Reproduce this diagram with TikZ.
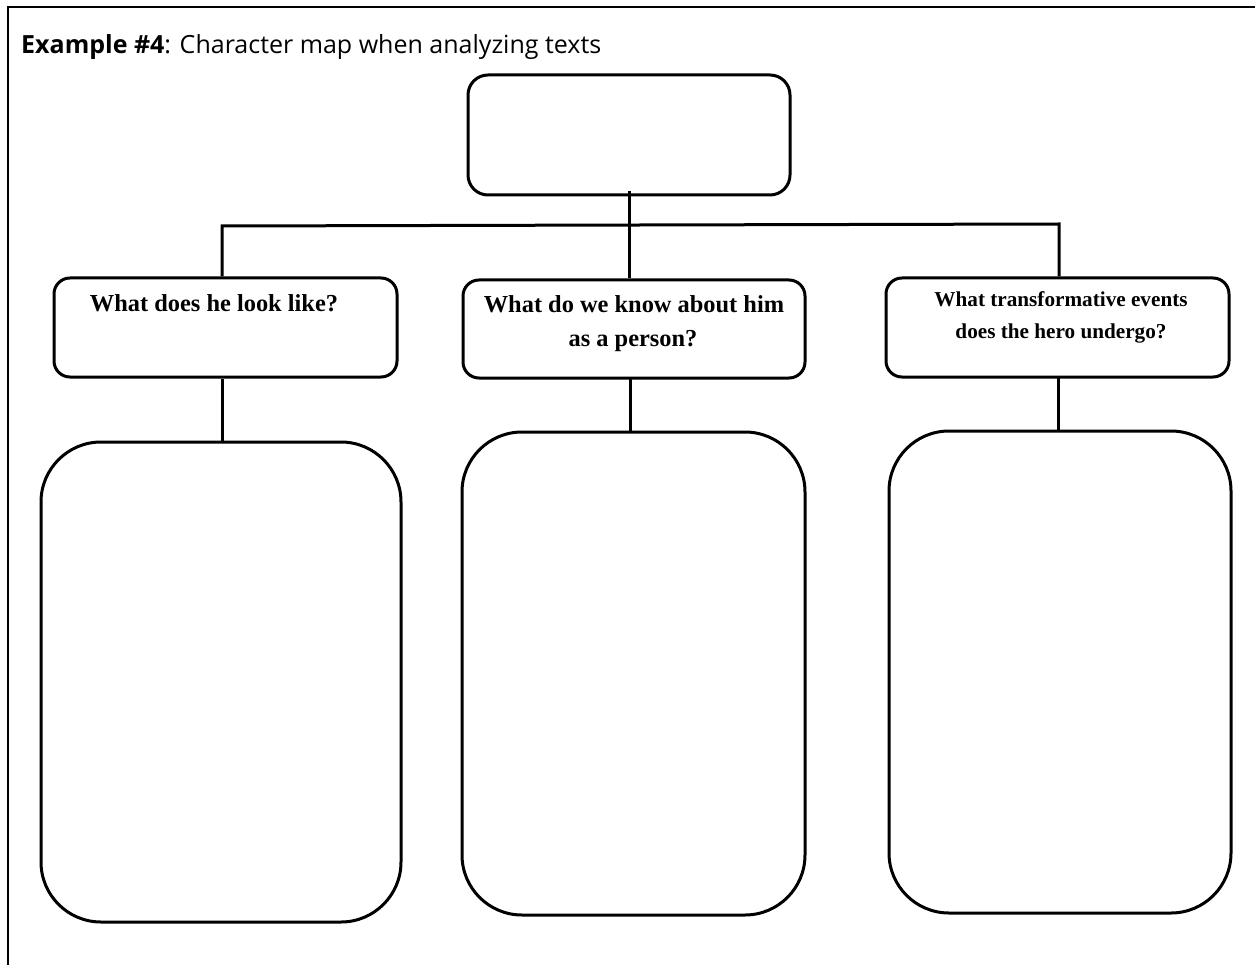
\documentclass[tikz,border=0pt]{standalone}
\usepackage{fontspec}
\setmainfont{Liberation Serif}
\newfontfamily\titlefont{Open Sans}
\begin{document}
\begin{tikzpicture}[x=1pt,y=-1pt,
  box/.style={draw=black, line width=3pt, inner sep=0pt, fill=none},
  smallbox/.style={box, rounded corners=16pt, minimum width=343pt, minimum height=99pt},
  bigbox/.style={box, rounded corners=60pt, minimum width=345pt, minimum height=482pt},
  conn/.style={draw=black, line width=3pt},
  qtext/.style={font=\fontsize{24.4}{33}\selectfont\bfseries, inner sep=0pt, align=center},
  qtextsmall/.style={font=\fontsize{21.2}{30.5}\selectfont\bfseries, inner sep=0pt, align=center}
]
\useasboundingbox (0,0) rectangle (1255,965);
\fill[white] (0,0) rectangle (1255,965);
% page frame
\draw[line width=2.5pt] (8,966) -- (8,7) -- (1256,7);
% title
\node[anchor=base west, inner sep=0pt, font=\titlefont\fontsize{25}{30}\selectfont] (title) at (21,54)
  {\textbf{Example \#4}: Character map when analyzing texts};
% top box
\node[box, rounded corners=20pt, minimum width=322pt, minimum height=120pt] (top) at (629,135) {};
% small boxes
\node[smallbox] (sl) at (225.5,327.5) {};
\node[smallbox, minimum width=342pt, minimum height=98pt] (sm) at (634,329) {};
\node[smallbox] (sr) at (1057.5,327.5) {};
% big boxes
\node[bigbox, minimum width=360pt, minimum height=480pt] (bl) at (221,682) {};
\node[bigbox, minimum width=343pt, minimum height=483pt] (bm) at (633.5,673.5) {};
\node[bigbox, minimum width=342pt, minimum height=482pt] (br) at (1060,672) {};
% question texts
\node[qtext, anchor=base] (tl) at (214,312) {What does he look like?};
\node[qtext, anchor=base] (tm1) at (634,313) {What do we know about him};
\node[qtext, anchor=base] (tm2) at (633,346) {as a person?};
\node[qtextsmall, anchor=base] (tr1) at (1061,307) {What transformative events};
\node[qtextsmall, anchor=base] (tr2) at (1061,338) {does the hero undergo?};
% connectors
\coordinate (busL) at (222,226);
\coordinate (busR) at (1059,224);
\coordinate (trunk) at (629,191);
\coordinate (ms) at (630,378);
\coordinate (rs) at (1058,377);
\draw[conn] (trunk) -- (trunk |- sm.north);
\draw[conn] (sl.north -| busL) -- (busL) -- (busR) -- (busR |- sr.north);
\draw[conn] (sl.south -| busL) -- (bl.north -| busL);
\draw[conn] (ms) -- (ms |- bm.north);
\draw[conn] (rs) -- (rs |- br.north);
\end{tikzpicture}
\end{document}
